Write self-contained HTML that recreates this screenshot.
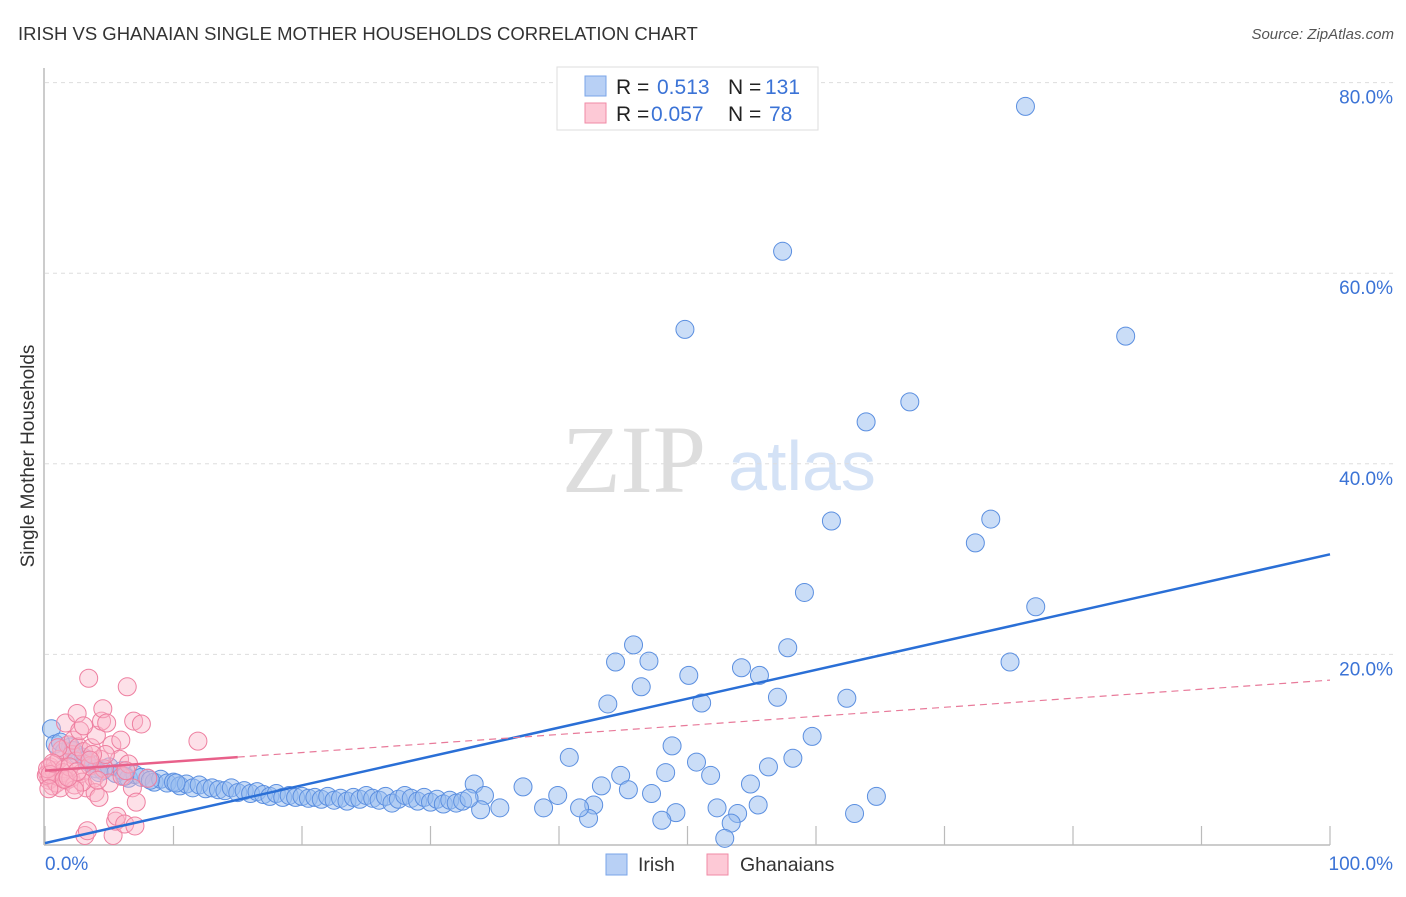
<!DOCTYPE html>
<html><head><meta charset="utf-8"><style>
body{margin:0;background:#fff;font-family:"Liberation Sans",sans-serif}
svg text{font-family:"Liberation Sans",sans-serif}
</style></head><body>
<svg width="1406" height="892" xmlns="http://www.w3.org/2000/svg">
<text x="18" y="40" font-size="18.5" fill="#333">IRISH VS GHANAIAN SINGLE MOTHER HOUSEHOLDS CORRELATION CHART</text>
<text x="1394" y="39" font-size="15" fill="#555" font-style="italic" text-anchor="end">Source: ZipAtlas.com</text>
<text x="634" y="492" font-size="96" fill="#ddd" font-family="Liberation Serif" text-anchor="middle" style="font-family:'Liberation Serif',serif">ZIP</text>
<text x="802" y="490" font-size="70" fill="#d4e2f6" text-anchor="middle">atlas</text>
<g id="grid"></g>
<g id="axes"></g>
<text x="34" y="456" font-size="19" fill="#333" text-anchor="middle" transform="rotate(-90 34 456)">Single Mother Households</text>
<g id="pts"></g>
<g id="trends"></g>
<g>
<rect x="557" y="67" width="261" height="63" fill="#fff" stroke="#ddd"/>
<rect x="585" y="76" width="21" height="20" fill="#b8d0f5" stroke="#7aa5e8"/>
<rect x="585" y="103" width="21" height="20" fill="#fdc9d6" stroke="#f08aa6"/>
<text x="616" y="94" font-size="21" fill="#222">R = <tspan x="657" fill="#3b73d6">0.513</tspan><tspan x="728">N = </tspan><tspan x="765" fill="#3b73d6">131</tspan></text>
<text x="616" y="121" font-size="21" fill="#222">R = <tspan x="651" fill="#3b73d6">0.057</tspan><tspan x="728">N = </tspan><tspan x="769" fill="#3b73d6">78</tspan></text>
</g>
<g>
<rect x="606" y="854" width="21" height="21" fill="#b8d0f5" stroke="#7aa5e8"/>
<text x="638" y="871" font-size="19.5" fill="#333">Irish</text>
<rect x="707" y="854" width="21" height="21" fill="#fdc9d6" stroke="#f08aa6"/>
<text x="740" y="871" font-size="19.5" fill="#333">Ghanaians</text>
</g>
</svg>
<script>
const yTicks=[20,40,60,80];
const yTickLabels=["20.0%","40.0%","60.0%","80.0%"];
const xTickVals=[0,10,20,30,40,50,60,70,80,90,100];
const irishX=[76.3,57.4,49.8,84.1,67.3,63.9,61.2,73.6,72.4,59.1,77.1,45.8,57.8,44.4,47.0,75.1,54.2,50.1,55.6,46.4,57.0,62.4,43.8,51.1,59.7,48.8,40.8,58.2,50.7,56.3,48.3,51.8,44.8,54.9,43.3,33.4,37.2,45.4,47.2,64.7,39.9,34.2,55.5,52.3,42.7,53.9,63.0,49.1,48.0,42.3,53.4,52.9,33.9,35.4,38.8,41.6,
0.5,0.8,1.5,2,2.5,3,3.5,4,4.5,5,5.5,6,6.5,7,7.5,8,8.5,9,9.5,10,10.5,11,11.5,12,12.5,13,13.5,14,14.5,15,15.5,16,16.5,17,17.5,18,18.5,19,19.5,20,20.5,21,21.5,22,22.5,23,23.5,24,24.5,25,25.5,26,26.5,27,27.5,28,28.5,29,29.5,30,30.5,31,31.5,32,32.5,33,1.2,2.2,3.2,4.2,6.2,8.2,10.2];
const irishY=[77.5,62.3,54.1,53.4,46.5,44.4,34.0,34.2,31.7,26.5,25.0,21.0,20.7,19.2,19.3,19.2,18.6,17.8,17.8,16.6,15.5,15.4,14.8,14.9,11.4,10.4,9.2,9.1,8.7,8.2,7.6,7.3,7.3,6.4,6.2,6.4,6.1,5.8,5.4,5.1,5.2,5.2,4.2,3.9,4.2,3.3,3.3,3.4,2.6,2.8,2.3,0.7,3.7,3.9,3.9,3.9,
12.2,10.6,9.8,10.3,9.5,9.2,8.6,8.0,7.8,8.2,7.5,7.8,7.0,7.4,7.1,7.0,6.6,6.9,6.5,6.6,6.2,6.4,6.0,6.3,5.9,6.0,5.8,5.7,6.0,5.5,5.7,5.4,5.6,5.3,5.1,5.4,5.0,5.2,5.0,5.1,4.9,5.0,4.8,5.1,4.7,4.9,4.6,5.0,4.8,5.2,4.9,4.7,5.1,4.4,4.8,5.2,4.9,4.6,5.0,4.5,4.8,4.3,4.7,4.4,4.6,4.9,10.8,9.9,8.9,7.6,7.2,6.8,6.5];
const ghX=[0.2,0.3,0.4,0.5,0.6,0.7,0.8,0.9,1,1.1,1.2,1.3,1.4,1.5,1.6,1.7,1.8,2,2.1,2.2,2.3,2.4,2.5,2.6,2.7,2.8,3,3.1,3.2,3.3,3.4,3.5,3.6,3.8,3.9,4,4.2,4.3,4.4,4.5,4.6,4.8,5,5.2,5.3,5.5,5.6,5.8,6,6.2,6.4,6.5,6.8,6.9,7.1,7.0,7.5,8,11.9,1.9,2.9,0.1,0.2,4.7,5.9,1.0,3.7,2.3,6.3,4.1,3.0,0.4,0.6,1.5,2.5,3.5,0.3,1.8];
const ghY=[7.5,6.8,8.2,7.0,6.2,7.8,8.5,6.5,7.2,9.0,6.0,10.0,7.6,8.0,12.8,6.8,10.5,7.0,9.5,11.0,6.3,8.8,13.8,10.3,12.0,7.5,9.8,1.0,6.0,1.5,17.5,8.3,10.2,7.0,5.5,11.5,5.0,9.0,13.0,14.3,8.0,12.8,6.5,10.5,1.0,2.5,3.0,9.0,7.2,2.2,16.6,8.5,6.0,13.0,4.5,2.0,12.7,7.0,10.9,8.2,6.6,7.3,8.0,9.5,11.0,10.2,9.5,5.8,7.8,6.8,12.5,7.4,8.6,6.9,7.7,8.9,5.9,7.1];
const irishTrend=[0.2,30.5];
const ghTrend=[7.8,17.3];
const ghSolidEnd=15;
const NS="http://www.w3.org/2000/svg";
const X0=45,X1=1330,Y0=845,YPER=9.53;
const sx=v=>X0+(X1-X0)*v/100;
const sy=v=>Y0-YPER*v;
function mk(t,a,p){const e=document.createElementNS(NS,t);for(const k in a)e.setAttribute(k,a[k]);p.appendChild(e);return e;}
const grid=document.getElementById('grid');
yTicks.forEach((v,i)=>{
 const l=mk('line',{x1:X0,x2:1395,y1:sy(v),y2:sy(v),stroke:'#ddd','stroke-dasharray':'4,4'},grid);
 
 
 const t=mk('text',{x:1393,y:sy(v)+21,'font-size':19,fill:'#3b73d6','text-anchor':'end'},grid);
 t.textContent=yTickLabels[i];
 
 
});
const ax=document.getElementById('axes');
mk('line',{x1:44,x2:44,y1:68,y2:Y0,stroke:'#bbb','stroke-width':1.5},ax);
mk('line',{x1:44,x2:X1,y1:Y0,y2:Y0,stroke:'#bbb','stroke-width':1.5},ax);
xTickVals.forEach(v=>{
 const l=mk('line',{x1:sx(v),x2:sx(v),y1:Y0-19,y2:Y0,stroke:'#bbb','stroke-width':1.2},ax);
 
 
});
const t0=mk('text',{x:45,y:870,'font-size':19,fill:'#3b73d6'},ax);t0.textContent='0.0%';


const t1=mk('text',{x:1393,y:870,'font-size':19,fill:'#3b73d6','text-anchor':'end'},ax);t1.textContent='100.0%';


const pts=document.getElementById('pts');
irishX.forEach((v,i)=>{
 const c=mk('circle',{cx:sx(v),cy:sy(irishY[i]),r:9,fill:'rgba(150,188,240,0.5)',stroke:'#5b8fe0','stroke-width':1},pts);
 
 
});
ghX.forEach((v,i)=>{
 const c=mk('circle',{cx:sx(v),cy:sy(ghY[i]),r:9,fill:'rgba(250,180,200,0.42)',stroke:'#ee7fa0','stroke-width':1},pts);
 
 
});
const tr=document.getElementById('trends');
const lerp=(a,x)=>a[0]+(a[1]-a[0])*x/100;
let e=mk('line',{x1:sx(0),y1:sy(irishTrend[0]),x2:sx(100),y2:sy(irishTrend[1]),stroke:'#2a6fd6','stroke-width':2.5},tr);


e=mk('line',{x1:sx(ghSolidEnd),y1:sy(lerp(ghTrend,ghSolidEnd)),x2:sx(100),y2:sy(ghTrend[1]),stroke:'#e87a9a','stroke-width':1.2,'stroke-dasharray':'7,5'},tr);


e=mk('line',{x1:sx(0),y1:sy(ghTrend[0]),x2:sx(ghSolidEnd),y2:sy(lerp(ghTrend,ghSolidEnd)),stroke:'#e8608a','stroke-width':2.5},tr);


</script>
</body></html>
